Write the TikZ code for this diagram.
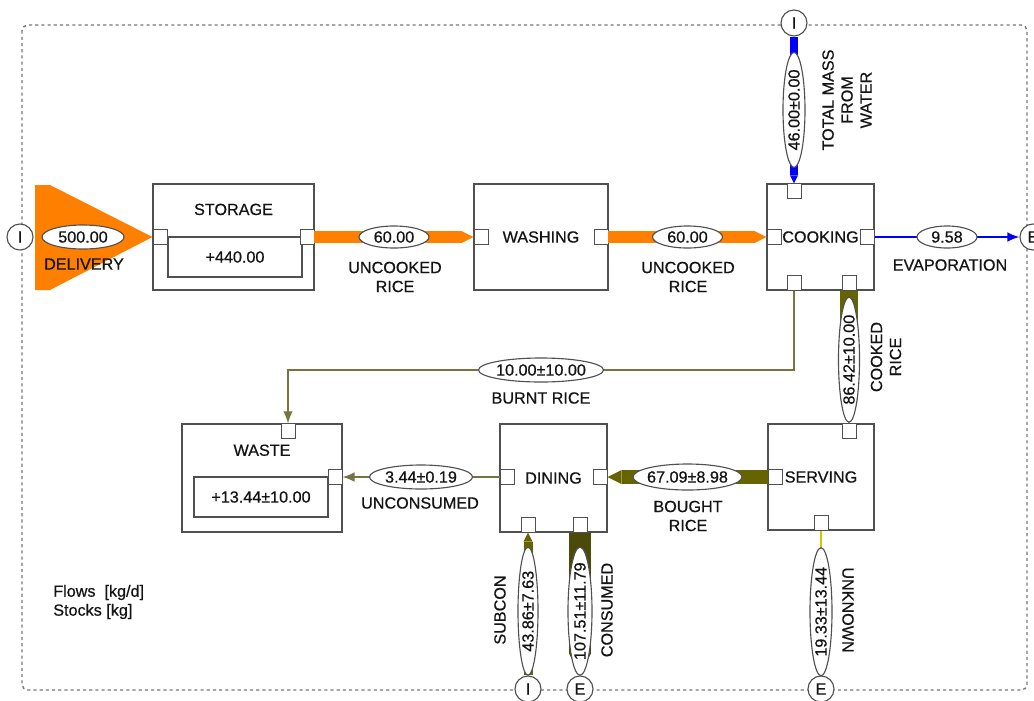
\documentclass[tikz,border=0pt]{standalone}
\usepackage{fontspec}
\setmainfont{Liberation Sans}
\newfontfamily\mfafont{Liberation Sans}[FakeBold=0.6]
\usetikzlibrary{positioning,arrows.meta,calc,shapes.geometric}
\definecolor{ink}{RGB}{20,20,20}
\definecolor{frame}{RGB}{80,80,80}
\definecolor{sysline}{RGB}{120,120,120}
\definecolor{flowor}{RGB}{255,128,0}
\definecolor{flowbl}{RGB}{0,0,255}
\definecolor{flowol}{RGB}{102,100,0}
\definecolor{flowdk}{RGB}{76,74,8}
\definecolor{flowth}{RGB}{118,116,64}
\definecolor{flowyl}{RGB}{205,200,0}
\newcommand{\lblfont}{\mfafont\fontsize{11.5}{13.5}\selectfont}
\newcommand{\fv}[1]{\makebox[0pt]{#1}}
\tikzset{
  proc/.style={draw=frame, line width=0.8pt, inner sep=0pt, minimum width=2.675cm,
    minimum height=2.65cm, font=\lblfont, text=ink},
  stockbox/.style={draw=frame, line width=0.8pt, inner sep=0pt, minimum width=3.35cm,
    minimum height=1.0cm, font=\lblfont, text=ink},
  port/.style={draw=frame, fill=white, line width=0.7pt, inner sep=0pt,
    minimum width=0.35cm, minimum height=0.36cm},
  term/.style={circle, draw=frame, fill=white, line width=0.8pt, inner sep=0pt,
    minimum size=0.65cm, font=\lblfont, text=ink},
  val/.style={ellipse, draw=frame, fill=white, line width=0.8pt, inner sep=0pt,
    font=\lblfont, text=ink},
  lbl/.style={font=\lblfont, text=ink, align=center, inner sep=0pt},
  band/.style={draw=#1, -{Triangle[width=0pt 1, length=0pt 1, line width=0pt]}},
  thinflow/.style={draw=flowth, line width=1.1pt, -{Latex[length=3mm, width=2.4mm]}},
  sysframe/.style={draw=sysline, line width=1pt, dash pattern=on 2.2pt off 2.2pt,
    rounded corners=4pt},
}

\begin{document}
\begin{tikzpicture}[x=0.025cm, y=-0.025cm]
  \useasboundingbox (0,0) rectangle (1034,700);
  \draw[sysframe] (22,25) rectangle (1027,690);

  % processes
  \node[proc, minimum width=4.025cm] (stor) at (233.5,237) {};
  \node[lbl, below=0.5cm of stor.north] (stor-name) {STORAGE};
  \node[stockbox] (stor-s) at (235,257) {+440.00};
  \node[proc, minimum width=3.35cm] (wash) at (541,237) {WASHING};
  \node[proc] (cook) at (820.5,237) {COOKING};
  \node[proc, minimum width=4cm, minimum height=2.7cm] (waste) at (262,478) {};
  \node[lbl, below=0.52cm of waste.north] (waste-name) {WASTE};
  \node[stockbox] (waste-s) at (261,497) {+13.44±10.00};
  \node[proc, minimum height=2.7cm] (din) at (553.5,478) {DINING};
  \node[proc, minimum width=2.65cm] (serv) at (821,477) {SERVING};

  % ports
  \node[port] (stor-l) at (160,237) {};
  \node[port] (stor-r) at (307,237) {};
  \node[port] (wash-l) at (481,237) {};
  \node[port] (wash-r) at (601,237) {};
  \node[port] (cook-l) at (774,237) {};
  \node[port] (cook-r) at (867,237) {};
  \node[port] (cook-t) at (794,191) {};
  \node[port] (cook-bl) at (794,283) {};
  \node[port] (cook-br) at (849,283) {};
  \node[port] (waste-t) at (288,431) {};
  \node[port] (waste-r) at (335,477) {};
  \node[port] (din-l) at (507,477) {};
  \node[port] (din-r) at (600,477) {};
  \node[port] (din-bl) at (528,525) {};
  \node[port] (din-br) at (580,525) {};
  \node[port] (serv-l) at (775,477) {};
  \node[port] (serv-t) at (849,431) {};
  \node[port] (serv-b) at (821,523) {};

  % imports and exports
  \node[term] (imp1) at (20,237) {I};
  \node[term] (imp2) at (794,23) {I};
  \node[term] (imp3) at (528,689) {I};
  \node[term] (exp1) at (1033,237) {E};
  \node[term] (exp2) at (580,689) {E};
  \node[term] (exp3) at (821,689) {E};

  % flows
  \fill[flowor] (35,185) -- (50,185) -- (stor-l.west) -- (50,290) -- (35,290) -- cycle;
  \node[val, minimum width=2.05cm, minimum height=0.6cm] (e500) at (83,237) {\fv{500.00}};
  \draw[band=flowor, line width=8.5pt] (stor-r) -- node[val, minimum width=1.75cm,
    minimum height=0.55cm] (e60a) {\fv{60.00}} (wash-l);
  \draw[band=flowor, line width=8.5pt] (wash-r) -- node[val, minimum width=1.75cm,
    minimum height=0.55cm] (e60b) {\fv{60.00}} (cook-l);
  \draw[band=flowbl, line width=5.7pt] (imp2) -- node[val, rotate=90, minimum width=2.875cm,
    minimum height=0.55cm] (e46) {\fv{46.00±0.00}} (cook-t);
  \draw[draw=flowbl, line width=1.1pt, -{Latex[length=3mm, width=2.4mm]}] (cook-r) --
    node[val, minimum width=1.5cm, minimum height=0.55cm] (e958) {\fv{9.58}} (exp1);
  \node[val, minimum width=3.125cm, minimum height=0.6cm] (e1000) at (541,370) {\fv{10.00±10.00}};
  \draw[thinflow] (cook-bl) |- (e1000) -| (waste-t);
  \draw[band=flowol, line width=12.8pt, -{Triangle[width=0pt 1, length=0pt 1.4, line width=0pt]}]
    (cook-br) -- node[val, rotate=90, pos=0.52, minimum width=3.125cm,
    minimum height=0.525cm] (e8642) {\fv{86.42±10.00}} (serv-t);
  \draw[band=flowol, line width=10pt] (serv-l) -- node[val, minimum width=2.725cm,
    minimum height=0.65cm] (e6709) {\fv{67.09±8.98}} (din-r);
  \draw[thinflow] (din-l) -- node[val, minimum width=2.575cm,
    minimum height=0.6cm] (e344) {\fv{3.44±0.19}} (waste-r);
  \draw[band=flowol, line width=6.4pt] (imp3) -- node[val, rotate=90, pos=0.45,
    minimum width=3.2cm, minimum height=0.5cm] (e4386) {\fv{43.86±7.63}} (din-bl);
  \draw[band=flowdk, line width=15.6pt] (din-br) -- node[val, rotate=90, pos=0.55,
    minimum width=3.2cm, minimum height=0.6cm] (e10751) {\fv{107.51±11.79}} (exp2);
  \draw[band=flowyl, line width=2.1pt] (serv-b) -- node[val, rotate=90, pos=0.56,
    minimum width=3.2cm, minimum height=0.55cm] (e1933) {\fv{19.33±13.44}} (exp3);

  % flow names
  \node[lbl] (lab-dlv) at (84,264) {DELIVERY};
  \node[lbl] (lab-unc1) at (395,277) {UNCOOKED\\RICE};
  \node[lbl] (lab-unc2) at (688,277) {UNCOOKED\\RICE};
  \node[lbl, rotate=90] (lab-water) at (847,100) {TOTAL MASS\\FROM\\WATER};
  \node[lbl] (lab-evap) at (950,265) {EVAPORATION};
  \node[lbl] (lab-burnt) at (541,398) {BURNT RICE};
  \node[lbl, rotate=90] (lab-cooked) at (886,357) {COOKED\\RICE};
  \node[lbl] (lab-uncons) at (420,503) {UNCONSUMED};
  \node[lbl] (lab-bought) at (688,516) {BOUGHT\\RICE};
  \node[lbl, rotate=90] (lab-subcon) at (500,610) {SUBCON};
  \node[lbl, rotate=90] (lab-cons) at (607,610) {CONSUMED};
  \node[lbl, rotate=-90] (lab-unk) at (848,610) {UNKNOWN};
  \node[lbl, align=left, anchor=west] (legend) at (53,602) {Flows~~[kg/d]\\Stocks [kg]};
\end{tikzpicture}
\end{document}
